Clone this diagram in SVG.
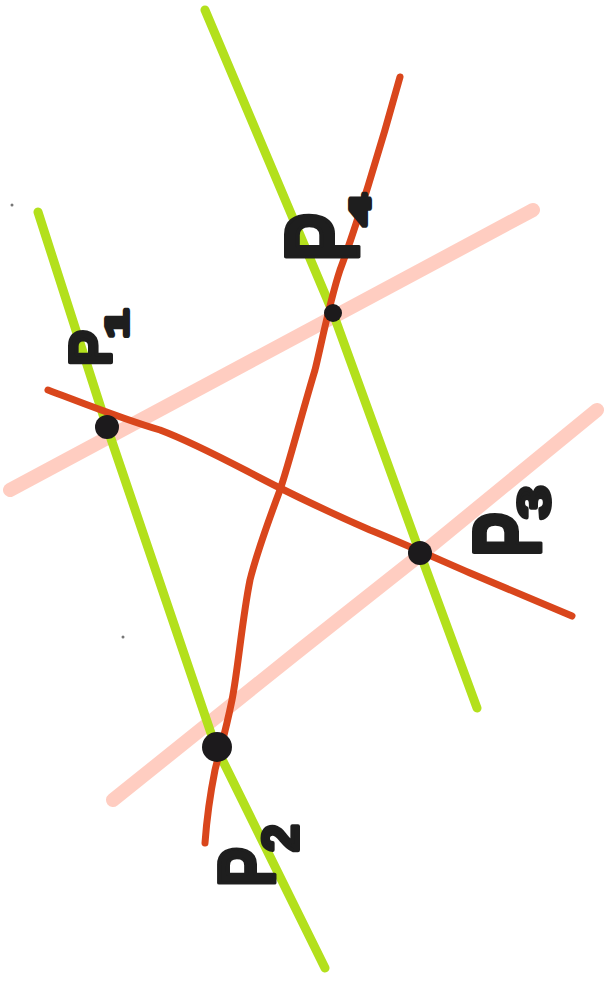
<svg xmlns="http://www.w3.org/2000/svg" width="605" height="985" viewBox="0 0 605 985">
<style>
.pink{fill:none;stroke:#ffb8a6;stroke-width:14;stroke-linecap:round;stroke-linejoin:round;opacity:0.7}
.green{fill:none;stroke:#b3e01c;stroke-width:9;stroke-linecap:round;stroke-linejoin:round}
.red{fill:none;stroke:#d9461c;stroke-width:7;stroke-linecap:round;stroke-linejoin:round}
.dot{fill:#1c1a1c}
.lbl{font-family:"Liberation Sans",Arial,sans-serif;font-weight:bold;fill:#1e1e1e;stroke:#1e1e1e;stroke-width:4;stroke-linejoin:round}
</style>
<rect width="605" height="985" fill="#ffffff"/>
<g id="connectors">
  <path class="pink" d="M10,490 L533,210"/>
  <path class="pink" d="M113,800 L300,650 L420,555 L597,410"/>
  <path class="green" d="M38,212 L107,427 L215,745 L325,968"/>
  <path class="green" d="M205,10 L333,313 L420,553 L477,708"/>
  <path class="red" d="M400,77 C380,150 355,230 340,270 C330,300 320,350 315,370 C300,420 290,460 280,490 C265,530 255,560 250,580 C242,620 238,670 232,700 C226,730 220,750 215,770 C210,795 207,815 205,843"/>
  <path class="red" d="M48,390 C80,402 125,420 160,430 C200,445 240,468 280,488 C320,508 340,517 370,530 C400,542 440,560 470,573 L572,616"/>
</g>
<g id="P1">
  <circle class="dot" cx="107" cy="427" r="12"/>
  <text class="lbl" font-size="60" transform="translate(111,366) rotate(-90) scale(0.9,1)">P</text>
  <text class="lbl" font-size="32" transform="translate(128,338) rotate(-90) scale(1.6,1)">1</text>
</g>
<g id="P2">
  <circle class="dot" cx="217" cy="747" r="15"/>
  <text class="lbl" font-size="80" transform="translate(274,887) rotate(-90) scale(0.75,1)">P</text>
  <text class="lbl" font-size="50" transform="translate(298,852) rotate(-90) scale(1,1)">2</text>
</g>
<g id="P3">
  <circle class="dot" cx="420" cy="553" r="12"/>
  <text class="lbl" font-size="96" transform="translate(540,557) rotate(-90) scale(0.7,1)">P</text>
  <text class="lbl" font-size="46" transform="translate(550,519) rotate(-90) scale(1.3,1)">3</text>
</g>
<g id="P4">
  <circle class="dot" cx="333" cy="313" r="9"/>
  <text class="lbl" font-size="106" transform="translate(359,262) rotate(-90) scale(0.7,1)">P</text>
  <text class="lbl" font-size="30" transform="translate(370,225) rotate(-90) scale(1.8,1)">4</text>
</g>
<circle cx="12" cy="205" r="1.5" fill="#777"/>
<circle cx="123" cy="637" r="1.5" fill="#777"/>
</svg>
